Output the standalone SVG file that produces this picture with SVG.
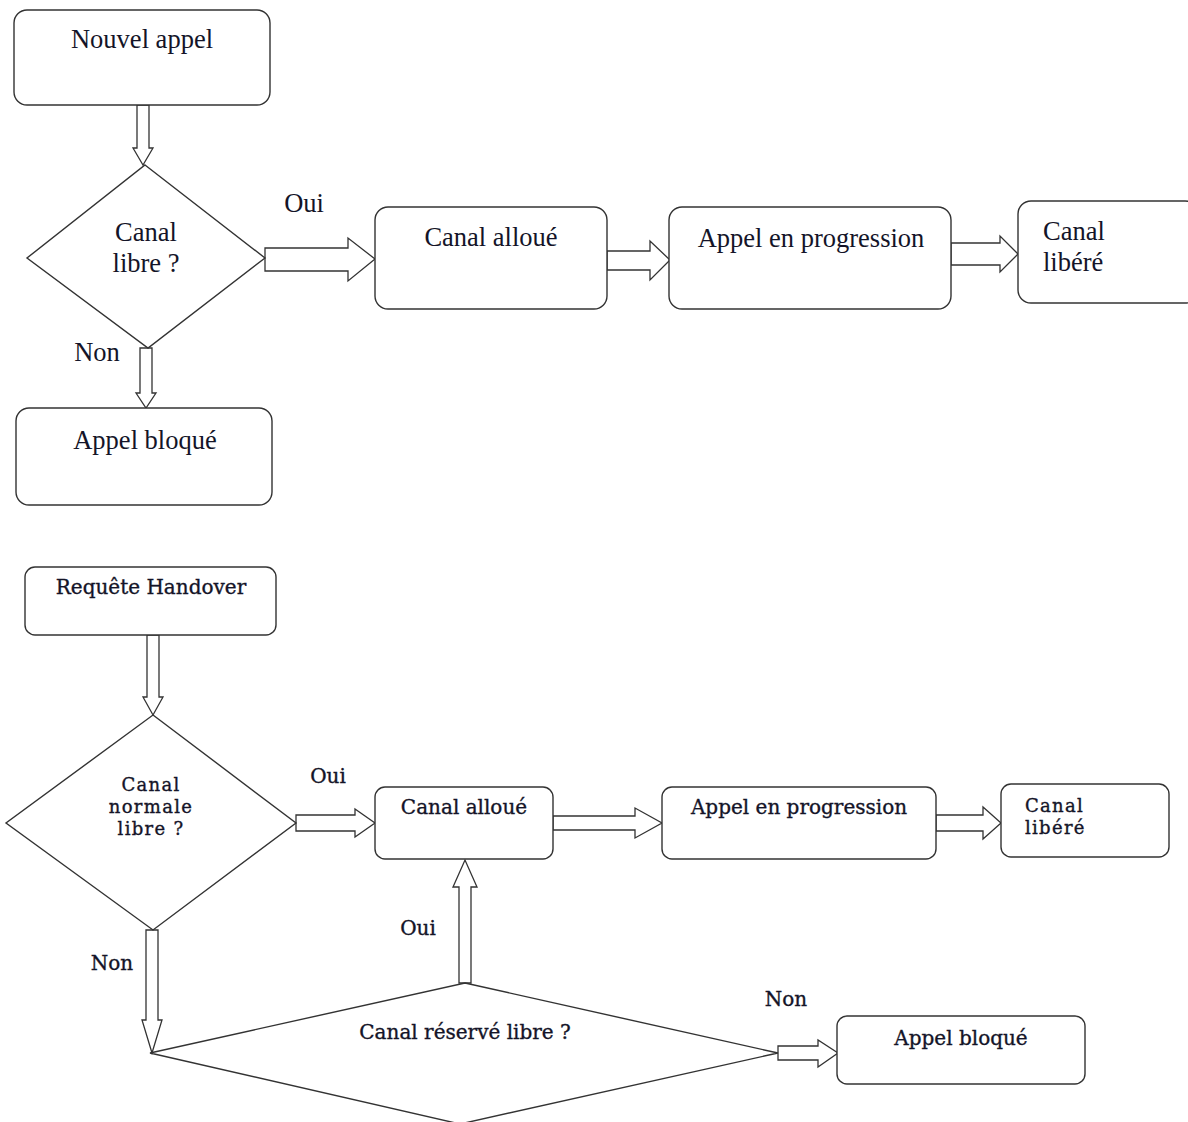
<svg xmlns="http://www.w3.org/2000/svg" width="1188" height="1122" viewBox="0 0 1188 1122">
<style>
.box{fill:#fff;stroke:#333;stroke-width:1.4}
.dia{fill:#fff;stroke:#333;stroke-width:1.4}
.arr{fill:#fff;stroke:#333;stroke-width:1.3;stroke-linejoin:miter}
.t1{font-family:"Liberation Serif",serif;font-size:26.5px;fill:#141428}
.t2{font-family:"DejaVu Serif",serif;font-size:20px;fill:#141428;stroke:#141428;stroke-width:0.35}
.t3{font-family:"DejaVu Serif",serif;font-size:18px;letter-spacing:1.3px;fill:#141428;stroke:#141428;stroke-width:0.35}
</style>
<rect width="1188" height="1122" fill="#fff"/>
<g id="connectors">
<polygon class="arr" points="137,105 149,105 149,148 153,148 143,165 133,148 137,148"/>
<polygon class="arr" points="265,248 348,248 348,238 375,259 348,281 348,271 265,271"/>
<polygon class="arr" points="140,348 152,348 152,393 156,393 146,408 136,393 140,393"/>
<polygon class="arr" points="607,251 650,251 650,241 670,260 650,280 650,270 607,270"/>
<polygon class="arr" points="951,243 1000,243 1000,236 1018,254 1000,272 1000,265 951,265"/>
<polygon class="arr" points="147,635 159,635 159,697 163,697 153,715 143,697 147,697"/>
<polygon class="arr" points="296,815 355,815 355,809 375,823 355,837 355,831 296,831"/>
<polygon class="arr" points="553,816 635,816 635,808 662,823 635,838 635,830 553,830"/>
<polygon class="arr" points="936,815 983,815 983,807 1001,823 983,839 983,831 936,831"/>
<polygon class="arr" points="459,983 459,887 453,887 465,860 477,887 471,887 471,983"/>
<polygon class="arr" points="146,930 158,930 158,1020 162,1020 152,1053 142,1020 146,1020"/>
<polygon class="arr" points="778,1046 818,1046 818,1040 838,1053 818,1067 818,1060 778,1060"/>
<text class="t1" x="304" y="212" text-anchor="middle">Oui</text>
<text class="t1" x="97" y="361" text-anchor="middle">Non</text>
<text class="t2" x="328" y="783" text-anchor="middle">Oui</text>
<text class="t2" x="418" y="935" text-anchor="middle">Oui</text>
<text class="t2" x="112" y="970" text-anchor="middle">Non</text>
<text class="t2" x="786" y="1006" text-anchor="middle">Non</text>
</g>
<g id="nouvel-appel">
<rect class="box" x="14" y="10" width="256" height="95" rx="13"/>
<text class="t1" x="142" y="48" text-anchor="middle">Nouvel appel</text>
</g>
<g id="canal-libre">
<polygon class="dia" points="145,165 265,258 148,348 27,258"/>
<text class="t1" x="146" y="241" text-anchor="middle">Canal</text>
<text class="t1" x="146" y="272" text-anchor="middle">libre ?</text>
</g>
<g id="appel-bloque-1">
<rect class="box" x="16" y="408" width="256" height="97" rx="13"/>
<text class="t1" x="145" y="449" text-anchor="middle">Appel bloqué</text>
</g>
<g id="canal-alloue-1">
<rect class="box" x="375" y="207" width="232" height="102" rx="13"/>
<text class="t1" x="491" y="246" text-anchor="middle">Canal alloué</text>
</g>
<g id="appel-progression-1">
<rect class="box" x="669" y="207" width="282" height="102" rx="13"/>
<text class="t1" x="811" y="247" text-anchor="middle">Appel en progression</text>
</g>
<g id="canal-libere-1">
<rect class="box" x="1018" y="201" width="180" height="102" rx="13"/>
<text class="t1" x="1043" y="240">Canal</text>
<text class="t1" x="1043" y="271">libéré</text>
</g>
<g id="requete-handover">
<rect class="box" x="25" y="567" width="251" height="68" rx="10"/>
<text class="t2" x="151" y="594" text-anchor="middle">Requête Handover</text>
</g>
<g id="canal-normale-libre">
<polygon class="dia" points="153,715 296,823 153,930 6,823"/>
<text class="t3" x="151" y="791" text-anchor="middle">Canal</text>
<text class="t3" x="151" y="813" text-anchor="middle">normale</text>
<text class="t3" x="151" y="835" text-anchor="middle">libre ?</text>
</g>
<g id="canal-alloue-2">
<rect class="box" x="375" y="787" width="178" height="72" rx="10"/>
<text class="t2" x="464" y="814" text-anchor="middle">Canal alloué</text>
</g>
<g id="appel-progression-2">
<rect class="box" x="662" y="787" width="274" height="72" rx="10"/>
<text class="t2" x="799" y="814" text-anchor="middle">Appel en progression</text>
</g>
<g id="canal-libere-2">
<rect class="box" x="1001" y="784" width="168" height="73" rx="10"/>
<text class="t3" x="1025" y="812">Canal</text>
<text class="t3" x="1025" y="834">libéré</text>
</g>
<g id="canal-reserve-libre">
<polygon class="dia" points="465,983 778,1053 460,1124 150,1053"/>
<text class="t2" x="465" y="1039" text-anchor="middle">Canal réservé libre ?</text>
</g>
<g id="appel-bloque-2">
<rect class="box" x="837" y="1016" width="248" height="68" rx="10"/>
<text class="t2" x="961" y="1045" text-anchor="middle">Appel bloqué</text>
</g>
</svg>
